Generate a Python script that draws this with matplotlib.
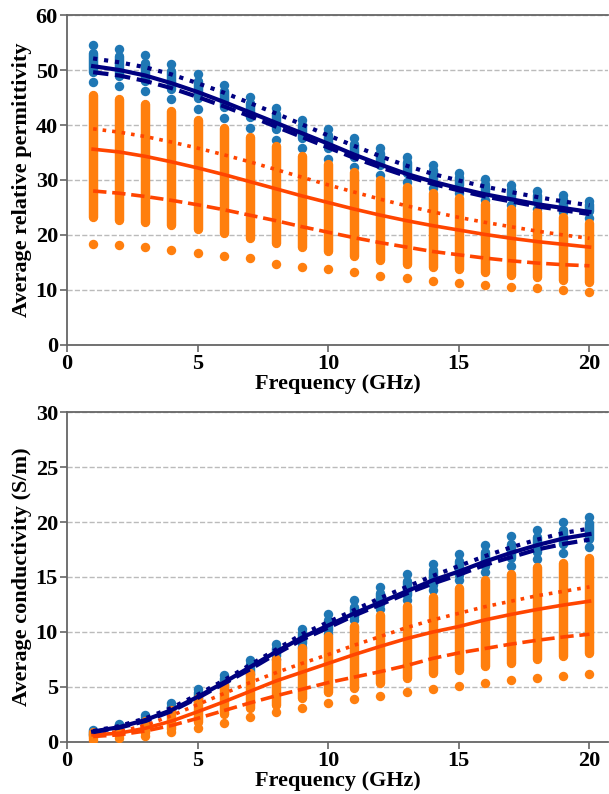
import matplotlib as mpl
mpl.use('agg')
import matplotlib.pyplot as plt
import numpy as np

plt.rcParams['font.family'] = ['Liberation Serif', 'DejaVu Serif']
plt.rcParams['font.weight'] = 'bold'

freq = np.arange(1, 21)

# ---- permittivity (top) ----
eps_blue_top = [54.5, 53.9, 52.7, 51.1, 49.3, 47.3, 45.1, 43.1, 41.0, 39.2,
                37.6, 35.8, 34.1, 32.7, 31.3, 30.1, 29.0, 28.0, 27.2, 26.2]
eps_blue_hi = [53.1, 52.5, 51.3, 49.8, 48.0, 46.1, 44.0, 42.0, 40.0, 38.2,
               36.6, 34.9, 33.2, 31.8, 30.5, 29.3, 28.3, 27.3, 26.5, 25.6]
eps_blue_lo = [49.7, 49.0, 48.0, 46.6, 45.0, 43.3, 41.4, 39.3, 37.7, 35.8,
               34.2, 32.7, 31.3, 30.1, 29.0, 27.9, 26.9, 26.0, 25.2, 24.3]
eps_blue_bot = [47.8, 47.1, 46.1, 44.7, 43.0, 41.3, 39.4, 37.3, 35.9, 33.9,
                32.4, 30.9, 29.7, 28.5, 27.6, 26.4, 25.5, 24.8, 24.1, 23.0]
eps_orng_hi = [45.5, 44.8, 43.8, 42.5, 41.0, 39.5, 37.9, 36.1, 34.4, 33.0,
               31.5, 30.0, 28.8, 27.6, 26.7, 25.6, 24.8, 24.1, 23.2, 22.2]
eps_orng_lo = [23.3, 22.8, 22.4, 21.8, 21.1, 20.3, 19.4, 18.5, 17.8, 17.0,
               16.1, 15.5, 14.8, 14.2, 13.8, 13.3, 12.7, 12.3, 11.8, 11.5]
eps_orng_out = [18.4, 18.1, 17.8, 17.3, 16.7, 16.2, 15.8, 14.8, 14.2, 13.8,
                13.2, 12.5, 12.1, 11.7, 11.3, 10.9, 10.6, 10.3, 10.0, 9.7]

eps_b_solid = [50.7, 50.0, 49.0, 47.6, 46.0, 44.2, 42.3, 40.4, 38.5, 36.6,
               34.6, 32.8, 31.1, 29.7, 28.5, 27.4, 26.5, 25.6, 24.9, 24.2]
eps_b_dot = [52.1, 51.4, 50.5, 49.2, 47.6, 45.9, 44.0, 42.1, 40.1, 38.1,
             36.2, 34.3, 32.6, 31.1, 29.9, 28.8, 27.8, 26.9, 26.1, 25.4]
eps_b_dash = [49.6, 49.0, 48.0, 46.7, 45.1, 43.4, 41.6, 39.7, 37.8, 35.9,
              34.0, 32.3, 30.7, 29.3, 28.1, 27.0, 26.1, 25.2, 24.5, 23.8]
eps_o_solid = [35.6, 35.1, 34.3, 33.3, 32.2, 31.0, 29.7, 28.4, 27.1, 25.9,
               24.7, 23.6, 22.6, 21.7, 20.9, 20.1, 19.4, 18.8, 18.3, 17.8]
eps_o_dot = [39.3, 38.7, 37.9, 36.9, 35.8, 34.6, 33.3, 31.9, 30.5, 29.1,
             27.8, 26.5, 25.3, 24.2, 23.2, 22.3, 21.5, 20.7, 20.0, 19.4]
eps_o_dash = [28.0, 27.6, 27.0, 26.3, 25.5, 24.6, 23.6, 22.6, 21.5, 20.5,
              19.5, 18.6, 17.8, 17.0, 16.4, 15.8, 15.3, 14.9, 14.6, 14.4]

# ---- conductivity (bottom) ----
sig_blue_top = [1.1, 1.6, 2.45, 3.5, 4.8, 6.1, 7.45, 8.9, 10.3, 11.6,
                12.9, 14.1, 15.3, 16.2, 17.1, 17.9, 18.7, 19.3, 20.0, 20.5]
sig_blue_hi = [1.0, 1.5, 2.3, 3.3, 4.5, 5.8, 7.1, 8.5, 9.9, 11.1,
               12.3, 13.5, 14.6, 15.6, 16.5, 17.3, 18.0, 18.6, 19.3, 19.9]
sig_blue_lo = [0.7, 1.1, 1.9, 2.8, 3.9, 5.1, 6.4, 7.8, 9.0, 10.2,
               11.4, 12.5, 13.4, 14.3, 15.2, 16.0, 16.7, 17.3, 18.0, 18.5]
sig_blue_bot = [0.6, 1.0, 1.7, 2.6, 3.6, 4.9, 6.2, 7.5, 8.6, 9.8,
                11.1, 12.1, 12.9, 13.8, 14.7, 15.5, 16.0, 16.6, 17.2, 17.7]
sig_orng_hi = [0.9, 1.2, 1.9, 2.9, 4.0, 5.2, 6.3, 7.5, 8.5, 9.6,
               10.5, 11.5, 12.4, 13.2, 14.0, 14.7, 15.3, 15.9, 16.3, 16.7]
sig_orng_lo = [0.4, 0.5, 0.8, 1.2, 1.8, 2.5, 3.1, 3.4, 4.0, 4.5,
               4.9, 5.4, 5.8, 6.3, 6.5, 6.9, 7.2, 7.5, 7.8, 8.1]
sig_orng_out = [0.2, 0.35, 0.55, 0.9, 1.3, 1.75, 2.25, 2.7, 3.1, 3.5,
                3.9, 4.2, 4.5, 4.8, 5.1, 5.4, 5.6, 5.8, 6.0, 6.2]

sig_b_solid = [0.95, 1.35, 2.0, 2.9, 4.1, 5.4, 6.8, 8.2, 9.5, 10.6,
               11.7, 12.7, 13.7, 14.7, 15.5, 16.4, 17.2, 17.9, 18.5, 18.9]
sig_b_dot = [1.0, 1.45, 2.15, 3.1, 4.3, 5.6, 7.0, 8.4, 9.8, 10.9,
             12.0, 13.1, 14.1, 15.1, 16.0, 16.9, 17.7, 18.4, 19.0, 19.4]
sig_b_dash = [0.9, 1.3, 1.9, 2.8, 4.0, 5.3, 6.6, 8.0, 9.3, 10.4,
              11.5, 12.5, 13.5, 14.4, 15.2, 16.1, 16.8, 17.5, 18.0, 18.4]
sig_o_solid = [0.65, 0.8, 1.25, 1.9, 2.75, 3.65, 4.6, 5.55, 6.35, 7.15,
               7.95, 8.7, 9.4, 10.0, 10.5, 11.1, 11.6, 12.05, 12.45, 12.8]
sig_o_dot = [0.7, 0.95, 1.5, 2.4, 3.4, 4.4, 5.4, 6.3, 7.15, 7.95,
             8.8, 9.6, 10.4, 11.1, 11.7, 12.3, 12.8, 13.3, 13.7, 14.1]
sig_o_dash = [0.5, 0.65, 1.0, 1.5, 2.15, 2.85, 3.55, 4.2, 4.8, 5.4,
              5.9, 6.4, 6.95, 7.6, 8.1, 8.5, 8.9, 9.25, 9.55, 9.8]

BLUE = '#1f77b4'
ORNG = '#ff7f0e'
NAVY = '#000080'
RED = '#ff4500'
MS = 6.8  # marker diameter in pt


def panel(ax, btop, bhi, blo, bbot, ohi, olo, oout, lines, ylim, yticks, ylabel):
    ax.scatter(freq, btop, s=MS**2, color=BLUE, lw=0, zorder=2)
    ax.scatter(freq, bbot, s=MS**2, color=BLUE, lw=0, zorder=2)
    vb = ax.vlines(freq, blo, bhi, color=BLUE, lw=MS, zorder=2)
    vb.set_capstyle('round')
    vo = ax.vlines(freq, olo, ohi, color=ORNG, lw=MS, zorder=3)
    vo.set_capstyle('round')
    ax.scatter(freq, oout, s=MS**2, color=ORNG, lw=0, zorder=3)

    bs, bd, bda, os_, od, oda = lines
    ax.plot(freq, bs, color=NAVY, lw=3, zorder=5)
    ax.plot(freq, bd, color=NAVY, lw=3, ls=':', zorder=5)
    ax.plot(freq, bda, color=NAVY, lw=3, ls='--', zorder=5)
    ax.plot(freq, os_, color=RED, lw=2.6, zorder=4)
    ax.plot(freq, od, color=RED, lw=2.6, ls=':', zorder=4)
    ax.plot(freq, oda, color=RED, lw=2.6, ls='--', zorder=4)

    ax.set_xlim(0, 20.7)
    ax.set_ylim(*ylim)
    ax.set_xticks([0, 5, 10, 15, 20])
    ax.set_yticks(yticks)
    ax.yaxis.grid(True, ls='--', color='#bbbbbb', lw=1)
    ax.set_axisbelow(True)
    ax.spines['right'].set_visible(False)
    for s in ('left', 'bottom', 'top'):
        ax.spines[s].set_color('#666666')
        ax.spines[s].set_linewidth(1.3)
    ax.tick_params(colors='#666666', labelcolor='black', labelsize=16,
                   length=5, width=1.2, pad=1.5)
    for lab in ax.get_xticklabels() + ax.get_yticklabels():
        lab.set_fontweight('bold')
    ax.set_xlabel('Frequency (GHz)', fontsize=16, fontweight='bold', labelpad=0)
    ax.set_ylabel(ylabel, fontsize=16, fontweight='bold', labelpad=3)


fig = plt.figure(figsize=(6.09, 7.94), dpi=100)
ax1 = fig.add_axes([0.110, 0.5655, 0.888, 0.4156])
ax2 = fig.add_axes([0.110, 0.0655, 0.888, 0.4156])

panel(ax1, eps_blue_top, eps_blue_hi, eps_blue_lo, eps_blue_bot,
      eps_orng_hi, eps_orng_lo, eps_orng_out,
      (eps_b_solid, eps_b_dot, eps_b_dash, eps_o_solid, eps_o_dot, eps_o_dash),
      (0, 60), [0, 10, 20, 30, 40, 50, 60], 'Average relative permittivity')
panel(ax2, sig_blue_top, sig_blue_hi, sig_blue_lo, sig_blue_bot,
      sig_orng_hi, sig_orng_lo, sig_orng_out,
      (sig_b_solid, sig_b_dot, sig_b_dash, sig_o_solid, sig_o_dot, sig_o_dash),
      (0, 30), [0, 5, 10, 15, 20, 25, 30], 'Average conductivity (S/m)')

fig.savefig('out.png', dpi=100)
